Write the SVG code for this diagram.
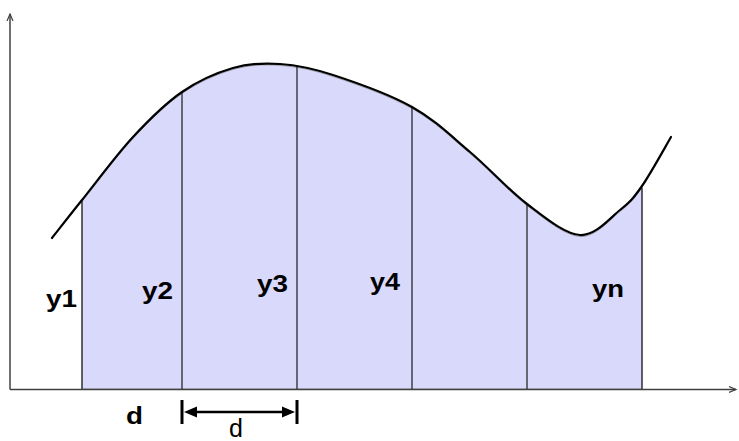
<svg xmlns="http://www.w3.org/2000/svg" width="739" height="441" viewBox="0 0 739 441">
  <style>
    .axis { stroke: #404040; stroke-width: 1.5; fill: none; }
    .strip { stroke: #1a1a1a; stroke-width: 1.2; fill: none; }
    .curve { stroke: #000; stroke-width: 2.2; fill: none; stroke-linecap: round; }
    .area { fill: #D9D9FB; stroke: #8a8a9a; stroke-width: 0.8; }
    .lbl { font-family: "Liberation Sans", Arial, sans-serif; font-weight: bold; font-size: 24px; fill: #000; }
    .dim { stroke: #000; fill: none; }
  </style>
  <defs>
    <marker id="axhead" markerWidth="10" markerHeight="10" refX="7" refY="4" orient="auto" markerUnits="userSpaceOnUse">
      <path d="M0,1 L7,4 L0,7" fill="none" stroke="#404040" stroke-width="1.2"/>
    </marker>
  </defs>

  <g id="area">
    <path class="area" transform="translate(0,1.5)" d="M82,387.5 V200 C95.5,183.2 116.3,155 133,137 C149.7,119 165.3,103.5 182,92 C198.7,80.5 216.7,72.7 233,68 C249.3,63.3 263.3,62.8 280,64 C296.7,65.2 311,67.8 333,75 C355,82.2 389.2,94.2 412,107 C434.8,119.8 450.8,135.8 470,152 C489.2,168.2 508.7,190.2 527,204 C545.3,217.8 564.5,234 580,235 C595.5,236 609.7,218.2 620,210 C630.3,201.8 633.5,198.2 642,186 V387.5 Z"/>
  </g>

  <g id="strips">
    <line class="strip" x1="82" y1="201" x2="82" y2="389"/>
    <line class="strip" x1="182" y1="93" x2="182" y2="389"/>
    <line class="strip" x1="297" y1="66" x2="297" y2="389"/>
    <line class="strip" x1="412" y1="107" x2="412" y2="389"/>
    <line class="strip" x1="527" y1="205" x2="527" y2="389"/>
    <line class="strip" x1="642" y1="188" x2="642" y2="389"/>
  </g>

  <g id="axes">
    <line class="axis" x1="10" y1="389.5" x2="10" y2="14" marker-end="url(#axhead)"/>
    <line class="axis" x1="10" y1="389.5" x2="736" y2="389.5" marker-end="url(#axhead)"/>
  </g>

  <g id="curve">
    <path class="curve" d="M52,238 C57,231.7 68.5,216.8 82,200 C95.5,183.2 116.3,155 133,137 C149.7,119 165.3,103.5 182,92 C198.7,80.5 216.7,72.7 233,68 C249.3,63.3 263.3,62.8 280,64 C296.7,65.2 311,67.8 333,75 C355,82.2 389.2,94.2 412,107 C434.8,119.8 450.8,135.8 470,152 C489.2,168.2 508.7,190.2 527,204 C545.3,217.8 564.5,234 580,235 C595.5,236 609.7,218.2 620,210 C630.3,201.8 633.5,198.2 642,186 C650.5,173.8 666.2,145.2 671,137"/>
  </g>

  <g id="labels">
    <text class="lbl" x="46" y="307" textLength="31" lengthAdjust="spacingAndGlyphs">y1</text>
    <text class="lbl" x="142" y="299" textLength="31" lengthAdjust="spacingAndGlyphs">y2</text>
    <text class="lbl" x="257" y="292" textLength="31" lengthAdjust="spacingAndGlyphs">y3</text>
    <text class="lbl" x="370" y="290" textLength="30" lengthAdjust="spacingAndGlyphs">y4</text>
    <text class="lbl" x="592" y="297" textLength="32" lengthAdjust="spacingAndGlyphs">yn</text>
    <text class="lbl" x="126" y="424" textLength="17" lengthAdjust="spacingAndGlyphs">d</text>
  </g>

  <g id="dimension">
    <line class="dim" x1="182" y1="400" x2="182" y2="424" stroke-width="3"/>
    <line class="dim" x1="297" y1="400" x2="297" y2="424" stroke-width="3"/>
    <line class="dim" x1="195" y1="412" x2="284" y2="412" stroke-width="2.5"/>
    <path d="M184,412 L197,406.5 L197,417.5 Z" fill="#000"/>
    <path d="M295,412 L282,406.5 L282,417.5 Z" fill="#000"/>
    <text x="229" y="437" font-family="Liberation Sans, Arial, sans-serif" font-size="25" fill="#000">d</text>
  </g>
</svg>
